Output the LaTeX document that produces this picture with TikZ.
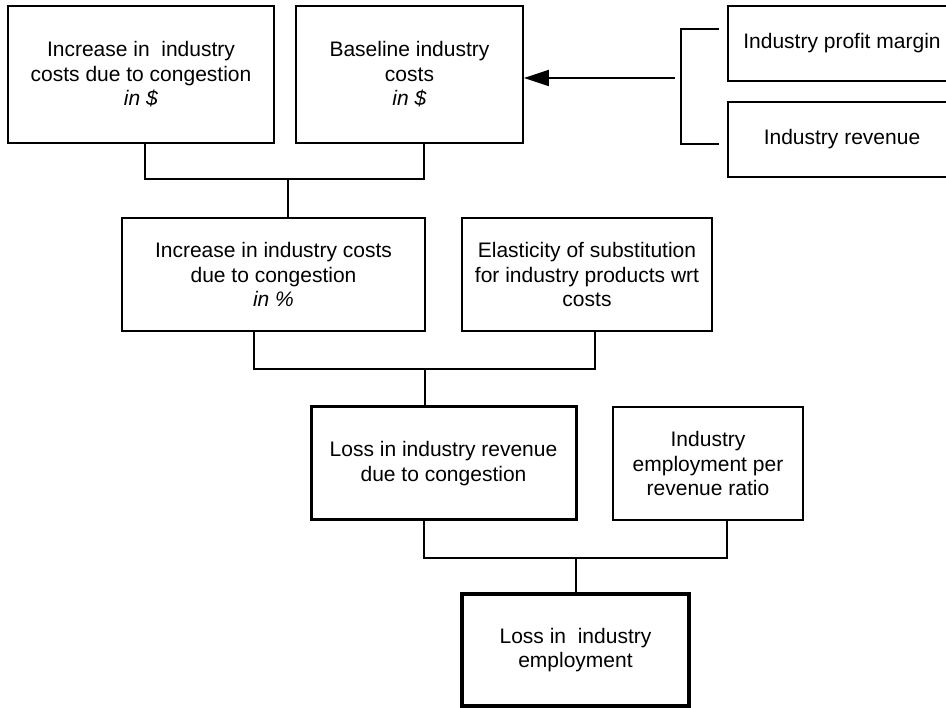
\documentclass[tikz,border=0pt]{standalone}
\usepackage{fontspec}
\setmainfont{Liberation Sans}
\usetikzlibrary{arrows.meta}

\tikzset{
  box/.style={draw, rectangle, line width=1.8pt, inner sep=0pt, align=center,
              font=\fontsize{21}{24.5}\selectfont},
  boldbox/.style={box, line width=3pt},
  heavybox/.style={box, line width=4.6pt},
  link/.style={line width=1.8pt},
  feed/.style={link, -{Triangle[length=25pt,width=16pt]}},
}

\begin{document}
\begin{tikzpicture}[x=1pt, y=-1pt]
  % page area
  \fill[white] (0,0) rectangle (946,708);
  \useasboundingbox (0,0) rectangle (946,708);

  % top row
  \node[box, minimum width=266pt, minimum height=137pt] (incd) at (141,74.5)
    {Increase in\ \ industry\\costs due to congestion\\\textit{in \$}};
  \node[box, minimum width=227pt, minimum height=137pt] (base) at (409.5,74.5)
    {Baseline industry\\costs\\\textit{in \$}};
  \node[box, minimum width=228pt, minimum height=75pt] (margin) at (842,43.5)
    {Industry profit margin};
  \node[box, minimum width=228pt, minimum height=75pt] (rev) at (842,139.5)
    {Industry revenue};

  % second row
  \node[box, minimum width=303pt, minimum height=113pt] (incp) at (273.5,274.5)
    {Increase in industry costs\\due to congestion\\\textit{in \%}};
  \node[box, minimum width=250pt, minimum height=113pt] (elast) at (587,274.5)
    {Elasticity of substitution\\for industry products wrt\\costs};

  % third row
  \node[boldbox, minimum width=265pt, minimum height=113pt] (loss) at (443.5,463.5)
    {Loss in industry revenue\\due to congestion};
  \node[box, minimum width=190pt, minimum height=113pt] (ratio) at (708,463.5)
    {Industry\\employment per\\revenue ratio};

  % result
  \node[heavybox, minimum width=227pt, minimum height=112pt] (emp) at (575.5,650)
    {Loss in\ \ industry\\employment};

  % junction points of the joining lines
  \coordinate (j1) at (288,179);
  \coordinate (j2) at (425,369);
  \coordinate (j3) at (576,558);

  \draw[link] ([xshift=4pt]incd.south) |- (j1) -| ([xshift=14.5pt]base.south);
  \draw[link] (j1) -- (incp.north -| j1);

  \draw[link] ([xshift=-19.5pt]incp.south) |- (j2) -| ([xshift=8pt]elast.south);
  \draw[link] (j2) -- (loss.north -| j2);

  \draw[link] ([xshift=-19.5pt]loss.south) |- (j3) -| ([xshift=19pt]ratio.south);
  \draw[link] (j3) -- (emp.north -| j3);

  % bracket grouping margin and revenue, feeding the baseline costs
  \coordinate (bt) at (719,29);
  \coordinate (bb) at (719,144);
  \coordinate (bx) at (681,29);
  \draw[link] (bt) -- (bx) |- (bb);
  \coordinate (fs) at (675,78);
  \draw[feed] (fs) -- (fs -| base.east);
\end{tikzpicture}
\end{document}
